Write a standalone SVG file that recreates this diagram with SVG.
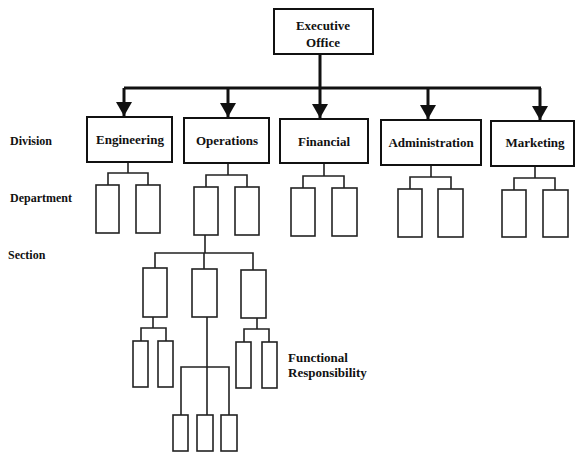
<svg xmlns="http://www.w3.org/2000/svg" width="576" height="455" viewBox="0 0 576 455">
<style>
.bg{fill:#fff}
.box{fill:#fff;stroke:#111;stroke-width:2}
.sm{fill:#fff;stroke:#222;stroke-width:1.6}
.c{fill:none;stroke:#222;stroke-width:1.6}
.main{fill:none;stroke:#111;stroke-width:3}
.t{font-size:13px;text-anchor:middle}
.l{font-size:12px}
</style>
<defs>
<marker id="ah" markerUnits="userSpaceOnUse" markerWidth="16" markerHeight="16" viewBox="0 0 14 16" refX="14" refY="8" orient="auto">
<path d="M0,0 L14,8 L0,16 z" fill="#111"/>
</marker>
</defs>
<rect class="bg" x="0" y="0" width="576" height="455"/>

<g id="connectors">
<path class="main" d="M320,54 V88 M124,88 H541"/>
<path class="main" d="M124,88 V116" marker-end="url(#ah)"/>
<path class="main" d="M228,88 V117" marker-end="url(#ah)"/>
<path class="main" d="M320,88 V118" marker-end="url(#ah)"/>
<path class="main" d="M428,88 V119" marker-end="url(#ah)"/>
<path class="main" d="M540,88 V120" marker-end="url(#ah)"/>
<path class="c" d="M128,162 V173 M108,185 V173 H148 V185"/>
<path class="c" d="M228,163 V175 M206,187 V175 H247 V187"/>
<path class="c" d="M324,163 V176 M303,188 V176 H344 V188"/>
<path class="c" d="M431,165 V177 M410,189 V177 H451 V189"/>
<path class="c" d="M535,166 V178 M514,190 V178 H555 V190"/>
<path class="c" d="M205,235 V253 M155,268 V253 H253 V270 M204,253 V269"/>
<path class="c" d="M153,317 V328 M141,341 V328 H166 V341"/>
<path class="c" d="M257,318 V329 M244,342 V329 H269 V342"/>
<path class="c" d="M207,317 V415 M181,415 V367 H229 V415"/>
</g>

<g font-family="'Liberation Serif', 'Times New Roman', 'DejaVu Serif', serif" font-weight="bold" fill="#111">
<g id="executive-office"><rect class="box" x="274" y="9" width="99" height="45"/><text class="t" x="323" y="30">Executive</text><text class="t" x="323" y="47">Office</text></g>

<g id="division-engineering"><rect class="box" x="87" y="117" width="85" height="45"/><text class="t" x="130" y="144">Engineering</text></g>
<g id="division-operations"><rect class="box" x="184" y="118" width="85" height="45"/><text class="t" x="227" y="145">Operations</text></g>
<g id="division-financial"><rect class="box" x="280" y="119" width="88" height="44"/><text class="t" x="324" y="146">Financial</text></g>
<g id="division-administration"><rect class="box" x="381" y="120" width="100" height="45"/><text class="t" x="431" y="147">Administration</text></g>
<g id="division-marketing"><rect class="box" x="491" y="121" width="83" height="45"/><text class="t" x="535" y="147">Marketing</text></g>

<g id="dept-eng-1"><rect class="sm" x="96" y="185" width="23" height="48"/></g>
<g id="dept-eng-2"><rect class="sm" x="136" y="185" width="24" height="48"/></g>
<g id="dept-ops-1"><rect class="sm" x="194" y="187" width="24" height="48"/></g>
<g id="dept-ops-2"><rect class="sm" x="235" y="187" width="24" height="48"/></g>
<g id="dept-fin-1"><rect class="sm" x="291" y="188" width="24" height="48"/></g>
<g id="dept-fin-2"><rect class="sm" x="332" y="188" width="25" height="48"/></g>
<g id="dept-adm-1"><rect class="sm" x="398" y="189" width="24" height="48"/></g>
<g id="dept-adm-2"><rect class="sm" x="438" y="189" width="25" height="48"/></g>
<g id="dept-mkt-1"><rect class="sm" x="502" y="190" width="24" height="47"/></g>
<g id="dept-mkt-2"><rect class="sm" x="543" y="190" width="25" height="47"/></g>

<g id="section-1"><rect class="sm" x="143" y="268" width="24" height="49"/></g>
<g id="section-2"><rect class="sm" x="192" y="269" width="25" height="48"/></g>
<g id="section-3"><rect class="sm" x="241" y="270" width="25" height="48"/></g>

<g id="func-1"><rect class="sm" x="133" y="341" width="15" height="46"/></g>
<g id="func-2"><rect class="sm" x="158" y="341" width="15" height="46"/></g>
<g id="func-3"><rect class="sm" x="236" y="342" width="15" height="46"/></g>
<g id="func-4"><rect class="sm" x="262" y="342" width="15" height="46"/></g>
<g id="func-5"><rect class="sm" x="173" y="415" width="15" height="36"/></g>
<g id="func-6"><rect class="sm" x="197" y="415" width="16" height="36"/></g>
<g id="func-7"><rect class="sm" x="221" y="415" width="16" height="36"/></g>

<g id="labels">
<text class="l" x="10" y="145">Division</text>
<text class="l" x="10" y="202">Department</text>
<text class="l" x="8" y="259">Section</text>
<text x="288" y="362" font-size="13">Functional</text>
<text x="288" y="377" font-size="13">Responsibility</text>
</g>
</g>
</svg>
